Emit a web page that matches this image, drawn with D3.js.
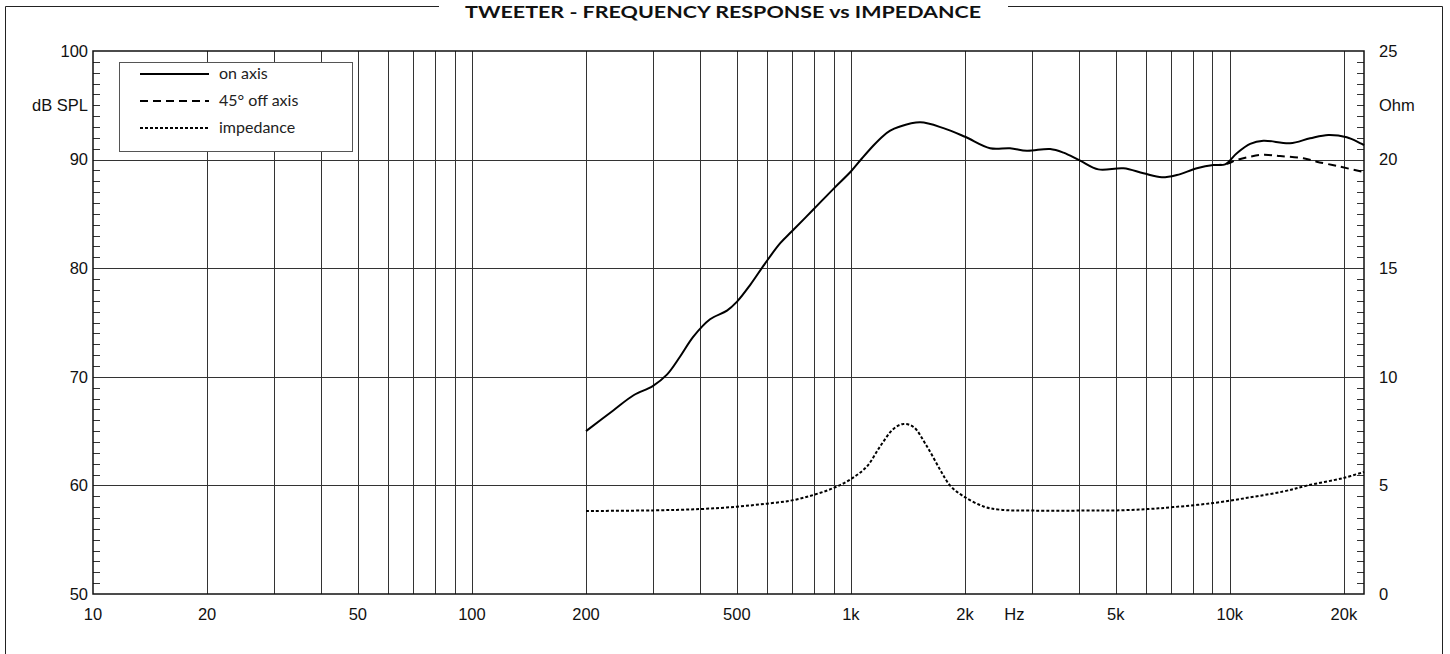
<!DOCTYPE html>
<html>
<head>
<meta charset="utf-8">
<script src="https://cdn.jsdelivr.net/npm/d3@7"></script>
<style>
    body { margin: 0; background: #fff; }
    svg { display: block; }
    .num { font-family: "Liberation Sans", Arial, sans-serif; font-size: 16.5px; fill: #111; }
    .leg { font-family: Lato, "Open Sans", sans-serif; font-size: 16px; fill: #222; }
</style>
</head>
<body>
<div class="canvas"></div>
<script>
const
    width = 1450,
    height = 654,
    plotLeft = 93,
    plotRight = 1364,
    plotTop = 51,
    plotBottom = 594;

// on axis response (Hz, dB SPL)
const onAxisFreq = [200, 236, 267, 300, 327, 354, 384, 425, 471, 500, 542, 594, 651, 699, 796, 905,
    1000, 1069, 1147, 1219, 1270, 1336, 1524, 1755, 2002, 2330, 2630, 2913, 3357, 3640, 4027, 4501,
    5240, 5916, 6616, 7247, 8185, 9053, 9720, 10435, 11315, 12264, 14420, 16290, 18200, 20350, 22600];
const onAxisDb = [65.0, 66.9, 68.3, 69.15, 70.2, 71.85, 73.7, 75.3, 76.1, 76.9, 78.45, 80.45, 82.3, 83.4, 85.4, 87.4,
    88.9, 90.1, 91.3, 92.2, 92.66, 93.0, 93.43, 92.9, 92.1, 91.05, 91.05, 90.82, 90.98, 90.64, 89.9, 89.1,
    89.2, 88.74, 88.37, 88.58, 89.2, 89.5, 89.56, 90.58, 91.44, 91.74, 91.5, 91.96, 92.27, 92.05, 91.34];

// 45° off axis (same as on axis below ~9.7k)
const offAxisFreq = [9053, 9720, 10435, 11315, 12264, 13570, 15640, 16960, 19540, 22600];
const offAxisDb = [89.5, 89.56, 89.96, 90.27, 90.45, 90.33, 90.12, 89.81, 89.35, 88.85];

// impedance (Hz, Ohm)
const impFreq = [200, 300, 400, 500, 600, 699, 796, 900, 1000, 1102, 1195, 1295, 1376, 1463, 1587, 1720,
    1828, 1982, 2239, 2477, 3034, 4110, 5034, 6070, 7098, 9053, 11315, 13850, 15970, 19930, 22600];
const impOhm = [3.82, 3.85, 3.91, 4.02, 4.16, 4.31, 4.56, 4.88, 5.29, 5.87, 6.80, 7.60, 7.83, 7.69, 6.80, 5.72,
    4.99, 4.50, 4.03, 3.88, 3.84, 3.84, 3.85, 3.91, 4.0, 4.19, 4.45, 4.72, 4.99, 5.34, 5.62];

const xTicks = [10, 20, 50, 100, 200, 500, 1000, 2000, 5000, 10000, 20000];
const xTickLabels = ["10", "20", "50", "100", "200", "500", "1k", "2k", "5k", "10k", "20k"];
const dbTicks = [50, 60, 70, 80, 90, 100];
const ohmTicks = [0, 5, 10, 15, 20, 25];
const legendLabels = ["on axis", "45° off axis", "impedance"];
const title = "TWEETER - FREQUENCY RESPONSE vs IMPEDANCE";

const svg = d3.select('.canvas').append("svg")
    .attr('width', width)
    .attr('height', height);

svg.append('rect').attr('width', width).attr('height', height).attr('fill', '#fff');

const x = d3.scaleLog().domain([10, 22600]).range([plotLeft, plotRight]);
const y = d3.scaleLinear().domain([50, 100]).range([plotBottom, plotTop]);
const yOhm = d3.scaleLinear().domain([0, 25]).range([plotBottom, plotTop]);

// frame with title
const frame = svg.append('g').attr('fill', 'none').attr('stroke', '#222').attr('stroke-width', 1);
frame.append('path').attr('d', `M5.5,${height}V6.5H439`);
frame.append('path').attr('d', `M1008,6.5H1442.5V${height}`);
svg.append('text')
    .attr('x', 723).attr('y', 17.5)
    .attr('text-anchor', 'middle')
    .attr('textLength', 516)
    .attr('lengthAdjust', 'spacingAndGlyphs')
    .style('font-family', 'Lato, sans-serif')
    .style('font-weight', 700)
    .style('font-size', '17px')
    .attr('fill', '#111')
    .text(title);

// vertical grid: every 1-2-..-9 per decade
const gridFreqs = [];
[10, 100, 1000, 10000].forEach(d => {
    for (let k = 1; k <= 9; k++) if (d * k > 10 && d * k < 22600) gridFreqs.push(d * k);
});
svg.append('g').selectAll('line')
    .data(gridFreqs)
    .enter().append('line')
    .attr('x1', d => Math.round(x(d)) + 0.5).attr('x2', d => Math.round(x(d)) + 0.5)
    .attr('y1', plotTop).attr('y2', plotBottom)
    .attr('stroke', '#333').attr('stroke-width', 1);

svg.append('g').selectAll('line')
    .data(dbTicks.slice(1, -1))
    .enter().append('line')
    .attr('x1', plotLeft).attr('x2', plotRight)
    .attr('y1', d => Math.round(y(d)) + 0.5).attr('y2', d => Math.round(y(d)) + 0.5)
    .attr('stroke', '#333').attr('stroke-width', 1);

// minor ticks on both sides (1 dB = 0.5 Ohm)
const minor = d3.range(51, 100).filter(d => d % 10 != 0);
svg.append('g').selectAll('line')
    .data(minor)
    .enter().append('line')
    .attr('x1', plotLeft).attr('x2', plotLeft + 7)
    .attr('y1', d => Math.round(y(d)) + 0.5).attr('y2', d => Math.round(y(d)) + 0.5)
    .attr('stroke', '#333');
svg.append('g').selectAll('line')
    .data(minor)
    .enter().append('line')
    .attr('x1', plotRight - 7).attr('x2', plotRight)
    .attr('y1', d => Math.round(y(d)) + 0.5).attr('y2', d => Math.round(y(d)) + 0.5)
    .attr('stroke', '#333');

// plot border
svg.append('rect')
    .attr('x', plotLeft).attr('y', plotTop)
    .attr('width', plotRight - plotLeft).attr('height', plotBottom - plotTop)
    .attr('fill', 'none').attr('stroke', '#111').attr('stroke-width', 1.5);

// axis labels
svg.append('g').selectAll('text')
    .data(dbTicks)
    .enter().append('text')
    .attr('class', 'num')
    .attr('x', plotLeft - 5).attr('y', d => y(d))
    .attr('dy', '0.35em').attr('text-anchor', 'end')
    .text(d => d);
svg.append('g').selectAll('text')
    .data(ohmTicks)
    .enter().append('text')
    .attr('class', 'num')
    .attr('x', plotRight + 15).attr('y', d => yOhm(d))
    .attr('dy', '0.35em')
    .text(d => d);
svg.append('g').selectAll('text')
    .data(xTicks)
    .enter().append('text')
    .attr('class', 'num')
    .attr('x', d => x(d)).attr('y', plotBottom + 20)
    .attr('dy', '0.35em').attr('text-anchor', 'middle')
    .text((d, i) => xTickLabels[i]);

svg.append('text').attr('class', 'num')
    .attr('x', plotLeft - 5).attr('y', y(95)).attr('dy', '0.35em').attr('text-anchor', 'end')
    .text('dB SPL');
svg.append('text').attr('class', 'num')
    .attr('x', plotRight + 15).attr('y', y(95)).attr('dy', '0.35em')
    .text('Ohm');
svg.append('text').attr('class', 'num')
    .attr('x', x(2700)).attr('y', plotBottom + 20).attr('dy', '0.35em').attr('text-anchor', 'middle')
    .text('Hz');

// curves
const line = d3.line().curve(d3.curveCatmullRom.alpha(0.5));
const curves = svg.append('g').attr('fill', 'none').attr('stroke', '#000').attr('stroke-width', 2);

curves.append('path')
    .attr('d', line(impFreq.map((f, i) => [x(f), yOhm(impOhm[i])])))
    .attr('stroke-dasharray', '3,2');
curves.append('path')
    .attr('d', line(offAxisFreq.map((f, i) => [x(f), y(offAxisDb[i])])))
    .attr('stroke-dasharray', '8,5');
curves.append('path')
    .attr('d', line(onAxisFreq.map((f, i) => [x(f), y(onAxisDb[i])])));

// legend
const legend = svg.append('g');
legend.append('rect')
    .attr('x', 119.5).attr('y', 62.5)
    .attr('width', 233).attr('height', 89)
    .attr('fill', '#fff').attr('stroke', '#555').attr('stroke-width', 1);
const dashes = [null, '8,5', '3,2'];
legendLabels.forEach((t, i) => {
    const ly = 74 + i * 27;
    legend.append('line')
        .attr('x1', 140).attr('x2', 209)
        .attr('y1', ly).attr('y2', ly)
        .attr('stroke', '#000').attr('stroke-width', 2)
        .attr('stroke-dasharray', dashes[i]);
    legend.append('text').attr('class', 'leg')
        .attr('x', 219).attr('y', ly).attr('dy', '0.3em')
        .text(t);
});
</script>
</body>
</html>
